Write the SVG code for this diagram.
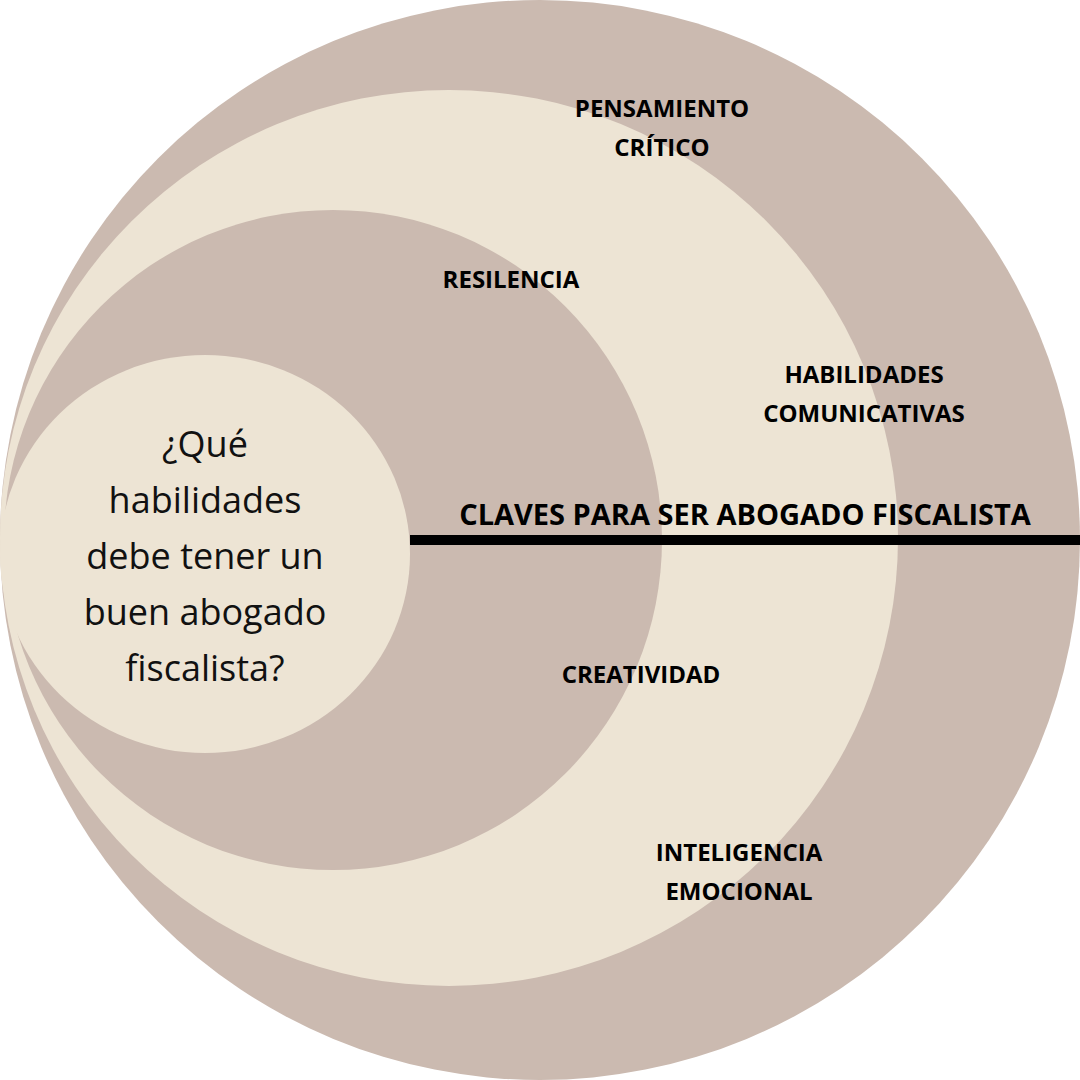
<svg xmlns="http://www.w3.org/2000/svg" width="1080" height="1080" viewBox="0 0 1080 1080">
<style>
.t{font-family:"Open Sans",sans-serif;font-weight:bold;font-size:24px;fill:#000;text-anchor:middle}
.q{font-family:"Open Sans",sans-serif;font-size:36px;fill:#111;text-anchor:middle}
</style>
<rect width="1080" height="1080" fill="#fff"/>
<g id="outer"><circle cx="540" cy="540" r="540" fill="#cbbab0"/></g>
<g id="ring2"><ellipse cx="449" cy="538" rx="449" ry="448" fill="#ede4d4"/></g>
<g id="ring3"><ellipse cx="333" cy="540" rx="329" ry="330" fill="#cbbab0"/></g>
<g id="inner"><ellipse cx="205" cy="554" rx="205" ry="199" fill="#ede4d4"/>
<text class="q"><tspan x="205" y="457">¿Qué</tspan><tspan x="205" y="513">habilidades</tspan><tspan x="205" y="569">debe tener un</tspan><tspan x="205" y="625">buen abogado</tspan><tspan x="205" y="681">fiscalista?</tspan></text></g>
<g id="connectors"><line x1="410" y1="540" x2="1080" y2="540" stroke="#000" stroke-width="10"/></g>
<g id="title"><text class="t" x="745" y="525" style="font-size:29px">CLAVES PARA SER ABOGADO FISCALISTA</text></g>
<g id="labels">
<text class="t"><tspan x="662" y="117">PENSAMIENTO</tspan><tspan x="662" y="156">CRÍTICO</tspan></text>
<text class="t" x="511" y="288">RESILENCIA</text>
<text class="t"><tspan x="864" y="383">HABILIDADES</tspan><tspan x="864" y="422">COMUNICATIVAS</tspan></text>
<text class="t" x="641" y="683">CREATIVIDAD</text>
<text class="t"><tspan x="739" y="861">INTELIGENCIA</tspan><tspan x="739" y="900">EMOCIONAL</tspan></text>
</g>
</svg>
